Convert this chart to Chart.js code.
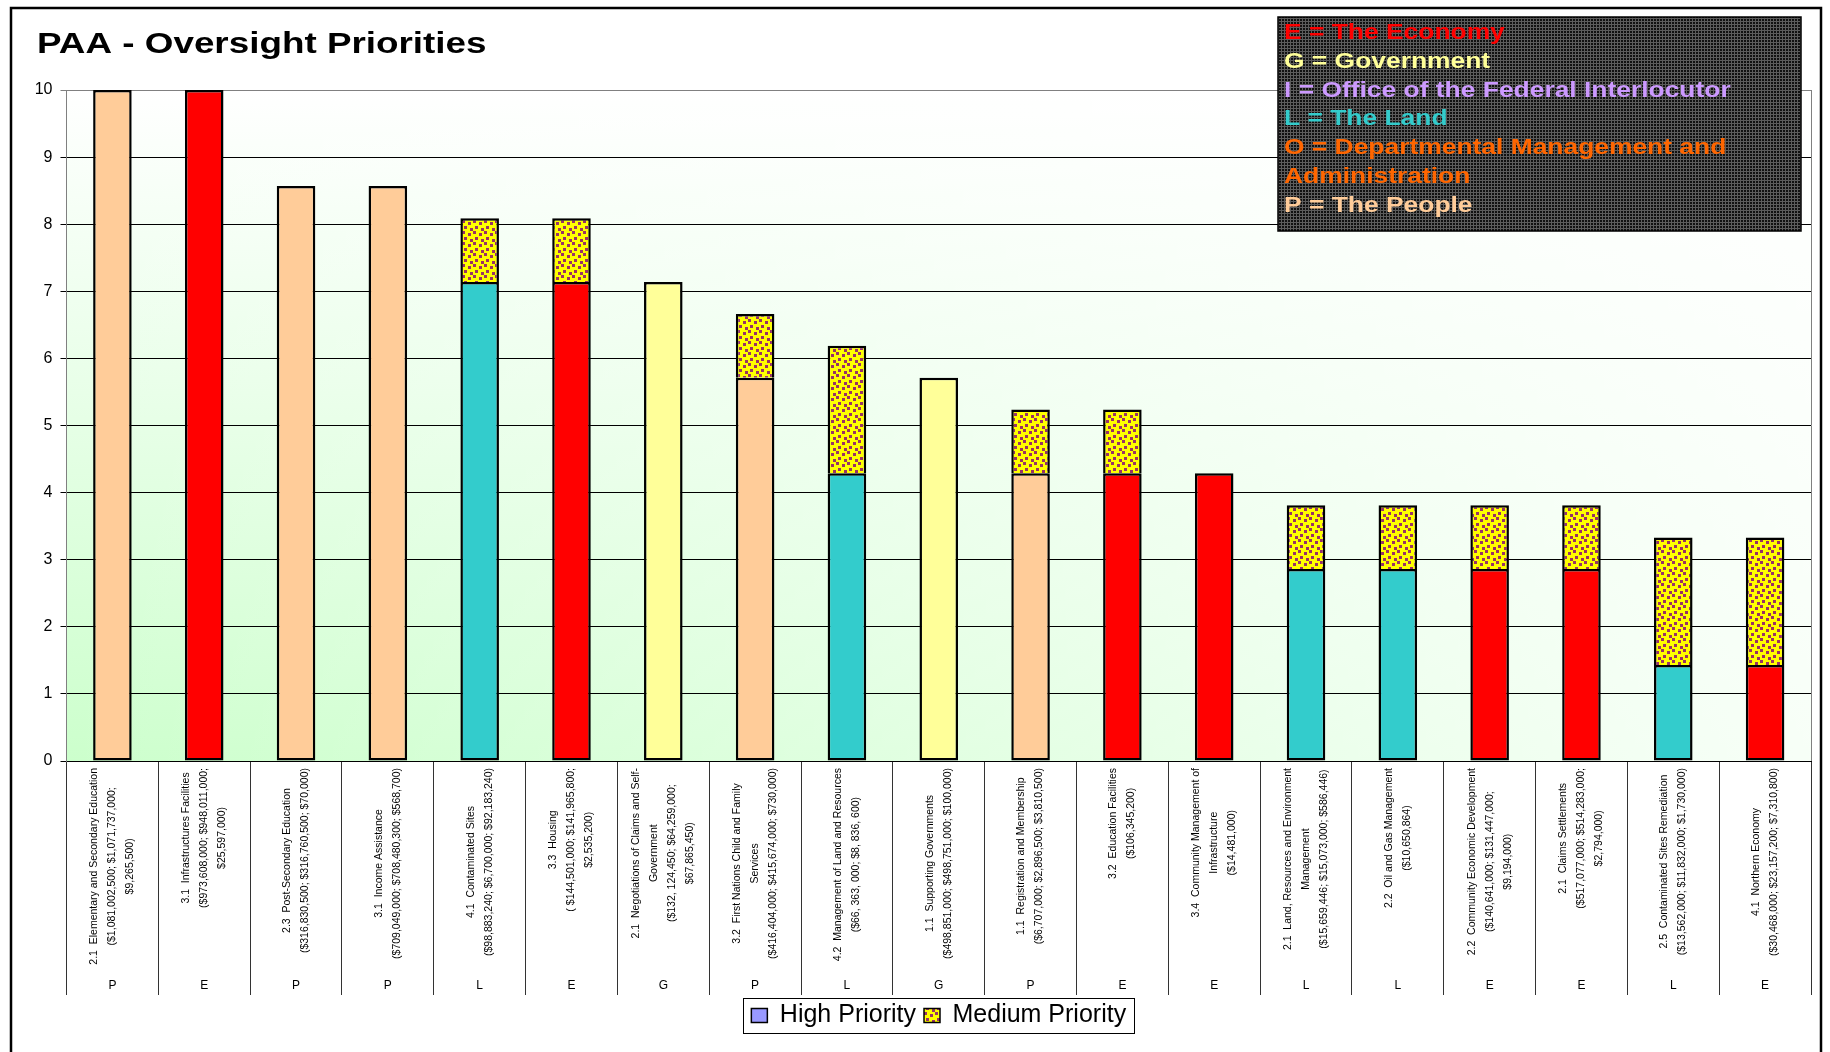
<!DOCTYPE html>
<html>
<head>
<meta charset="utf-8">
<script src="https://cdn.jsdelivr.net/npm/chart.js@4.4.1/dist/chart.umd.min.js"></script>
<style>
  body { margin: 0; background: #fff; }
  #wrap { width: 1830px; height: 1052px; }
</style>
</head>
<body>
<div id="wrap"><canvas id="myChart" width="1830" height="1052"></canvas></div>
<script>
// program activities, each label is a list of lines
const categories = [
  ['2.1  Elementary and Secondary Education', '($1,081,002,500; $1,071,737,000;', '$9,265,500)'],
  ['3.1  Infrastructures Facilities', '($973,608,000; $948,011,000;', '$25,597,000)'],
  ['2.3  Post-Secondary Education', '($316,830,500; $316,760,500; $70,000)'],
  ['3.1  Income Assistance', '($709,049,000; $708,480,300; $568,700)'],
  ['4.1  Contaminated Sites', '($98,883,240; $6,700,000; $92,183,240)'],
  ['3.3  Housing', '( $144,501,000; $141,965,800;', '$2,535,200)'],
  ['2.1  Negotiations of Claims and Self-', 'Government', '($132, 124,450; $64,259,000;', '$67,865,450)'],
  ['3.2  First Nations Child and Family', 'Services', '($416,404,000; $415,674,000; $730,000)'],
  ['4.2  Management of Land and Resources', '($66, 363, 000; $8, 836, 600)'],
  ['1.1  Supporting Governments', '($498,851,000; $498,751,000; $100,000)'],
  ['1.1  Registration and Membership', '($6,707,000; $2,896,500; $3,810,500)'],
  ['3.2  Education Facilities', '($106,345,200)'],
  ['3.4  Community Management of', 'Infrastructure', '($14,481,000)'],
  ['2.1  Land, Resources and Environment', 'Management', '($15,659,446; $15,073,000; $586,446)'],
  ['2.2  Oil and Gas Management', '($10,650,864)'],
  ['2.2  Community Economic Development', '($140,641,000; $131,447,000;', '$9,194,000)'],
  ['2.1  Claims Settlements', '($517,077,000; $514,283,000;', '$2,794,000)'],
  ['2.5  Contaminated Sites Remediation', '($13,562,000; $11,832,000; $1,730,000)'],
  ['4.1  Northern Economy', '($30,468,000; $23,157,200; $7,310,800)']
];
const outcomes = ['P','E','P','P','L','E','G','P','L','G','P','E','E','L','L','E','E','L','E'];

const highPriority   = [10, 10, 8.57, 8.57, 7.14, 7.14, 7.14, 5.71, 4.29, 5.71, 4.29, 4.29, 4.29, 2.86, 2.86, 2.86, 2.86, 1.43, 1.43];
const mediumPriority = [null, null, null, null, 0.95, 0.95, null, 0.95, 1.9, null, 0.95, 0.95, null, 0.95, 0.95, 0.95, 0.95, 1.9, 1.9];

const yMin = 0, yMax = 10, yStep = 1;

const outcomeColors = { P: '#FFCC99', E: '#FF0000', L: '#33CCCC', G: '#FFFF99' };

const keyLines = [
  ['E = The Economy', '#FF0000'],
  ['G = Government', '#FFFF99'],
  ['I = Office of the Federal Interlocutor', '#CC99FF'],
  ['L = The Land', '#33CCCC'],
  ['O = Departmental Management and', '#FF6600'],
  ['Administration', '#FF6600'],
  ['P = The People', '#FFCC99']
];

const FONT = '"Liberation Sans", Arial, sans-serif';

// yellow with purple dots, like the excel fill
function makeDots() {
  const c = document.createElement('canvas');
  c.width = 11; c.height = 11;
  const g = c.getContext('2d');
  g.fillStyle = '#FFFF00';
  g.fillRect(0, 0, 11, 11);
  g.fillStyle = '#993366';
  [[0,0],[6,2],[2,6],[8,8]].forEach(p => g.fillRect(p[0], p[1], 3, 3));
  return g.createPattern(c, 'repeat');
}
function makeGrid() {
  const c = document.createElement('canvas');
  c.width = 3; c.height = 3;
  const g = c.getContext('2d');
  g.fillStyle = '#111';
  g.fillRect(0, 0, 3, 3);
  g.fillStyle = '#5c5c5c';
  g.fillRect(0, 0, 3, 1);
  g.fillRect(0, 0, 1, 3);
  return g.createPattern(c, 'repeat');
}
const dots = makeDots();
const darkGrid = makeGrid();

const backdrop = {
  id: 'backdrop',
  beforeDraw(chart) {
    const {ctx, chartArea: a} = chart;
    ctx.save();
    ctx.fillStyle = '#fff';
    ctx.fillRect(0, 0, chart.width, chart.height);
    let g = ctx.createLinearGradient(0, a.top, 0, a.bottom);
    g.addColorStop(0, '#FFFFFF');
    g.addColorStop(1, '#CCFFCC');
    ctx.fillStyle = g;
    ctx.fillRect(a.left, a.top, a.right - a.left, a.bottom - a.top);
    g = ctx.createLinearGradient(a.left, 0, a.right, 0);
    g.addColorStop(0, 'rgba(255,255,255,0)');
    g.addColorStop(1, 'rgba(255,255,255,0.85)');
    ctx.fillStyle = g;
    ctx.fillRect(a.left, a.top, a.right - a.left, a.bottom - a.top);
    ctx.restore();
  },
  afterDraw(chart) {
    const {ctx, chartArea: a} = chart;
    const xs = chart.scales.x;
    ctx.save();

    // plot border right side
    ctx.strokeStyle = '#808080';
    ctx.lineWidth = 1;
    ctx.beginPath();
    ctx.moveTo(a.right + 0.5, a.top);
    ctx.lineTo(a.right + 0.5, a.bottom);
    ctx.stroke();

    // category labels, rotated
    ctx.fillStyle = '#000';
    ctx.font = '10.5px ' + FONT;
    ctx.textAlign = 'center';
    ctx.textBaseline = 'middle';
    categories.forEach((lines, i) => {
      const cx = xs.getPixelForValue(i);
      const w = Math.max(...lines.map(l => ctx.measureText(l).width));
      ctx.save();
      ctx.translate(cx, xs.top);
      ctx.rotate(-Math.PI / 2);
      lines.forEach((l, j) => {
        ctx.fillText(l, -(7 + w / 2), (j - (lines.length - 1) / 2) * 18);
      });
      ctx.restore();
    });
    ctx.font = '12px ' + FONT;
    outcomes.forEach((o, i) => {
      ctx.fillText(o, xs.getPixelForValue(i), 986);
    });

    // title
    ctx.save();
    ctx.font = 'bold 29px ' + FONT;
    ctx.textAlign = 'left';
    ctx.translate(37, 45);
    ctx.scale(1.27, 1);
    ctx.fillText('PAA - Oversight Priorities', 0, 0);
    ctx.restore();

    // key box top right
    ctx.fillStyle = darkGrid;
    ctx.fillRect(1278, 17, 523, 214);
    ctx.strokeStyle = '#000';
    ctx.lineWidth = 1.5;
    ctx.strokeRect(1278, 17, 523, 214);
    ctx.font = 'bold 22px ' + FONT;
    ctx.textAlign = 'left';
    keyLines.forEach((k, i) => {
      ctx.save();
      ctx.translate(1284, 33 + i * 28.8);
      ctx.scale(1.2, 1);
      ctx.fillStyle = k[1];
      ctx.fillText(k[0], 0, 0);
      ctx.restore();
    });

    // border round the legend
    const boxes = chart.legend.legendHitBoxes;
    if (boxes && boxes.length) {
      const l = Math.min(...boxes.map(b => b.left)) - 8;
      const r = Math.max(...boxes.map(b => b.left + b.width)) + 8;
      ctx.strokeStyle = '#000';
      ctx.lineWidth = 1;
      ctx.strokeRect(Math.round(l) + 0.5, 998.5, Math.round(r - l), 35);
    }

    // outer frame
    ctx.strokeStyle = '#000';
    ctx.lineWidth = 2.5;
    ctx.strokeRect(11, 8, 1810, 1070);
    ctx.restore();
  }
};

const ctx = document.getElementById('myChart');
const myChart = new Chart(ctx, {
  type: 'bar',
  data: {
    labels: categories,
    datasets: [
      {
        label: 'High Priority',
        data: highPriority,
        backgroundColor: outcomes.map(o => outcomeColors[o]),
        borderColor: '#000',
        borderWidth: 2.5,
        borderSkipped: false,
        categoryPercentage: 1,
        barPercentage: 0.42
      },
      {
        label: 'Medium Priority',
        data: mediumPriority,
        backgroundColor: dots,
        borderColor: '#000',
        borderWidth: 2.5,
        borderSkipped: 'start',
        categoryPercentage: 1,
        barPercentage: 0.42
      }
    ]
  },
  options: {
    responsive: false,
    animation: false,
    layout: { padding: { left: 20, right: 19, top: 90, bottom: 14 } },
    plugins: {
      title: { display: false },
      tooltip: { enabled: false },
      legend: {
        position: 'bottom',
        fullSize: false,
        labels: {
          color: '#000',
          font: { family: FONT, size: 25 },
          boxWidth: 16,
          boxHeight: 14,
          padding: 8,
          generateLabels: () => [
            { text: 'High Priority', fillStyle: '#9999FF', strokeStyle: '#000', lineWidth: 1.5, hidden: false, datasetIndex: 0 },
            { text: 'Medium Priority', fillStyle: dots, strokeStyle: '#000', lineWidth: 1.5, hidden: false, datasetIndex: 1 }
          ]
        }
      }
    },
    scales: {
      x: {
        stacked: true,
        offset: true,
        ticks: { display: false },
        grid: {
          offset: true,
          drawOnChartArea: false,
          drawTicks: true,
          tickLength: 234,
          color: '#333'
        },
        border: { color: '#000', width: 1 },
        afterFit: s => { s.height = 234; }
      },
      y: {
        stacked: true,
        min: yMin,
        max: yMax,
        ticks: {
          stepSize: yStep,
          color: '#000',
          padding: 8,
          font: { family: FONT, size: 16 }
        },
        grid: {
          color: c => (c.tick && c.tick.value === yMax ? '#808080' : '#000'),
          lineWidth: 1,
          tickLength: 6
        },
        border: { color: '#808080', width: 1 },
        afterFit: s => { s.width = 46.5; }
      }
    }
  },
  plugins: [backdrop]
});
</script>
</body>
</html>
